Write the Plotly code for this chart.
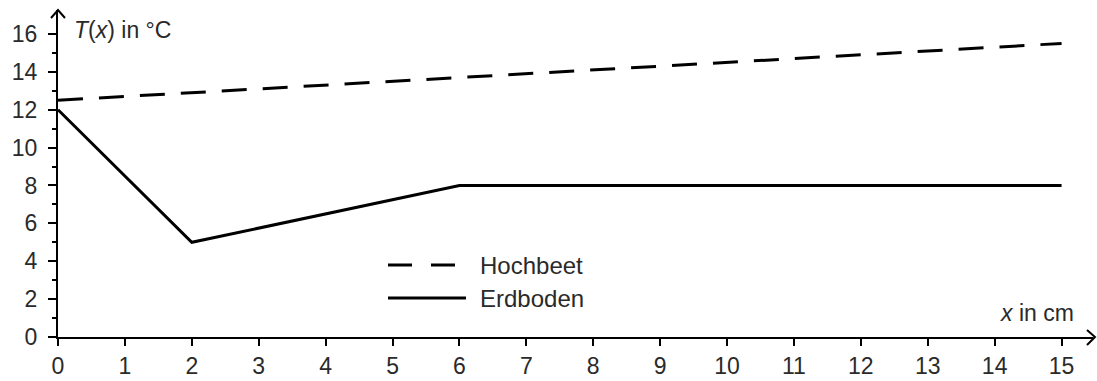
import plotly.graph_objects as go

# Data
x_hoch = [0, 15]
t_hoch = [12.5, 15.5]
x_erd = [0, 2, 6, 15]
t_erd = [12, 5, 8, 8]
x_ticks = list(range(0, 16))
y_ticks = list(range(0, 17, 2))

L, R, T, B = 58, 4, 10, 44
W, H = 1097, 381
pw, ph = W - L - R, H - T - B
XMAX = 15.47
YMAX = ph / 18.94

def px(xp):
    return (xp - L) / pw

def py(yp):
    return (H - B - yp) / ph

TXT = "#2a2a2a"
FONT = "Liberation Sans, Arial, Helvetica, sans-serif"
FS = 23

fig = go.Figure()
fig.add_trace(go.Scatter(x=x_hoch, y=t_hoch, mode="lines", name="Hochbeet",
                         line=dict(color="black", width=3, dash="25px,16px"),
                         showlegend=False, cliponaxis=False, hoverinfo="skip"))
fig.add_trace(go.Scatter(x=x_erd, y=t_erd, mode="lines", name="Erdboden",
                         line=dict(color="black", width=3),
                         showlegend=False, cliponaxis=False, hoverinfo="skip"))

shapes = []
# arrowheads
shapes.append(dict(type="path", xref="paper", yref="paper",
                   path=f"M {px(51)} {py(18)} L {px(58)} {py(10)} L {px(65)} {py(18)}",
                   line=dict(color="black", width=2)))
shapes.append(dict(type="path", xref="paper", yref="paper",
                   path=f"M {px(1087)} {py(330)} L {px(1095)} {py(337)} L {px(1087)} {py(345)}",
                   line=dict(color="black", width=2)))
# legend samples
shapes.append(dict(type="line", xref="paper", yref="paper",
                   x0=px(388), x1=px(466), y0=py(265), y1=py(265),
                   line=dict(color="black", width=3, dash="24px,19px")))
shapes.append(dict(type="line", xref="paper", yref="paper",
                   x0=px(388), x1=px(466), y0=py(298), y1=py(298),
                   line=dict(color="black", width=3)))

annotations = [
    dict(text="<i>T</i>(<i>x</i>) in °C", xref="paper", yref="paper",
         x=px(72), y=py(30), xanchor="left", yanchor="middle", showarrow=False,
         font=dict(size=FS, color=TXT, family=FONT)),
    dict(text="<i>x</i> in cm", xref="paper", yref="paper",
         x=px(1076), y=py(313), xanchor="right", yanchor="middle", showarrow=False,
         font=dict(size=FS, color=TXT, family=FONT)),
    dict(text="Hochbeet", xref="paper", yref="paper",
         x=px(478), y=py(265), xanchor="left", yanchor="middle", showarrow=False,
         font=dict(size=FS + 1, color=TXT, family=FONT)),
    dict(text="Erdboden", xref="paper", yref="paper",
         x=px(478), y=py(298), xanchor="left", yanchor="middle", showarrow=False,
         font=dict(size=FS + 1, color=TXT, family=FONT)),
]

fig.update_layout(
    width=W, height=H,
    margin=dict(l=L, r=R, t=T, b=B, pad=0),
    plot_bgcolor="white", paper_bgcolor="white",
    shapes=shapes, annotations=annotations,
    showlegend=False, hovermode=False,
    xaxis=dict(range=[0, XMAX], tickvals=x_ticks, ticktext=[str(v) for v in x_ticks],
               showgrid=False, zeroline=False, showline=True, linecolor="black", linewidth=2,
               ticks="outside", ticklen=7, tickwidth=2, tickcolor="black", automargin=False,
               tickfont=dict(size=FS, color=TXT, family=FONT)),
    yaxis=dict(range=[0, YMAX], tickvals=y_ticks, ticktext=[str(v) for v in y_ticks],
               showgrid=False, zeroline=False, showline=True, linecolor="black", linewidth=2,
               ticks="outside", ticklen=8, tickwidth=2, tickcolor="black", automargin=False,
               ticklabelstandoff=6,
               minor=dict(tickvals=[1, 3, 5, 7, 9, 11, 13, 15], ticklen=4, tickwidth=2,
                          tickcolor="black", ticks="outside", showgrid=False),
               tickfont=dict(size=FS, color=TXT, family=FONT)),
)

fig.write_html("out.html", config={"displayModeBar": False},
               post_script="document.body.style.margin='0';document.body.style.overflow='hidden';")
